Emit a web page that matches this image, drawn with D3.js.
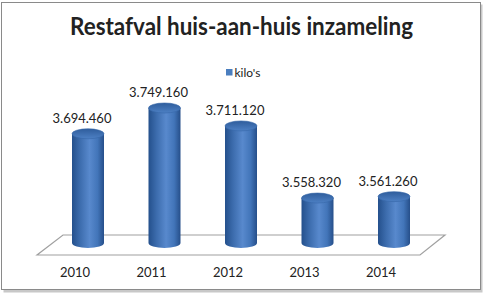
<!DOCTYPE html>
<html>
<head>
<meta charset="utf-8">
<script src="https://cdn.jsdelivr.net/npm/d3@7"></script>
<style>
  body { margin: 0; background: #fff; }
  text { font-family: Lato, "Open Sans", sans-serif; fill: #222; }
</style>
</head>
<body>
<div id="chart"></div>
<script>
(function() {
  // data
  var years = ["2010", "2011", "2012", "2013", "2014"];
  var kilos = [3694460, 3749160, 3711120, 3558320, 3561260];
  var labels = ["3.694.460", "3.749.160", "3.711.120", "3.558.320", "3.561.260"];
  var seriesName = "kilo's";
  var title = "Restafval huis-aan-huis inzameling";

  var width = 488, height = 294;

  var svg = d3.select("#chart")
      .append("svg")
      .attr("width", width)
      .attr("height", height);

  // frame with a soft shadow
  svg.append("rect")
    .attr("x", 3.5).attr("y", 4.5)
    .attr("width", 479).attr("height", 288)
    .attr("fill", "#c8c8c8");
  svg.append("rect")
    .attr("x", 1.5).attr("y", 2.5)
    .attr("width", 479).attr("height", 287)
    .attr("fill", "#fff")
    .attr("stroke", "#8a8a8a");

  // scales
  var xScale = d3.scalePoint()
    .domain(years)
    .range([88, 394]);

  var yScale = d3.scaleLinear()
    .domain([3463000, 3800000])
    .range([243, 84]);

  var rx = 16, ry = 5, depthShift = -13;

  // gradients
  var defs = svg.append("defs");
  var side = defs.append("linearGradient")
    .attr("id", "side").attr("x1", "0").attr("x2", "1").attr("y1", "0").attr("y2", "0");
  side.append("stop").attr("offset", "0").attr("stop-color", "#24508c");
  side.append("stop").attr("offset", "0.25").attr("stop-color", "#3c6cad");
  side.append("stop").attr("offset", "0.55").attr("stop-color", "#5889cd");
  side.append("stop").attr("offset", "0.8").attr("stop-color", "#4275b9");
  side.append("stop").attr("offset", "1").attr("stop-color", "#264f8a");

  var top = defs.append("linearGradient")
    .attr("id", "topcap").attr("x1", "0").attr("x2", "0").attr("y1", "0").attr("y2", "1");
  top.append("stop").attr("offset", "0").attr("stop-color", "#2f5d9c");
  top.append("stop").attr("offset", "1").attr("stop-color", "#4d80c4");

  // floor
  var floorBack = 235, floorFront = 255;
  var floorPts = [[63, floorBack], [445, floorBack], [420, floorFront], [37, floorFront]];
  svg.append("polygon")
    .attr("points", floorPts.map(function(p) { return p.join(","); }).join(" "))
    .attr("fill", "#fff")
    .attr("stroke", "#a0a0a0")
    .attr("stroke-width", 1.2);

  var bars = svg.selectAll("g.bar")
    .data(kilos)
    .enter().append("g")
    .attr("class", "bar");

  // cylinder body
  bars.append("path")
    .attr("fill", "url(#side)")
    .attr("d", function(d, i) {
      var cx = xScale(years[i]);
      var topY = yScale(d), botY = yScale.range()[0];
      return "M" + (cx - rx) + "," + topY +
        "L" + (cx - rx) + "," + botY +
        "A" + rx + "," + ry + " 0 0 0 " + (cx + rx) + "," + botY +
        "L" + (cx + rx) + "," + topY + "Z";
    });

  // top cap
  bars.append("ellipse")
    .attr("cx", function(d, i) { return xScale(years[i]); })
    .attr("cy", function(d) { return yScale(d); })
    .attr("rx", rx)
    .attr("ry", ry)
    .attr("fill", "url(#topcap)")
    .attr("stroke", "#3566a8")
    .attr("stroke-width", 0.6);

  // value labels
  bars.append("text")
    .attr("x", function(d, i) { return xScale(years[i]) - 6; })
    .attr("y", function(d) { return yScale(d) - ry - 6; })
    .attr("text-anchor", "middle")
    .attr("font-size", 13)
    .text(function(d, i) { return labels[i]; });

  // category labels
  svg.selectAll("text.year")
    .data(years)
    .enter().append("text")
    .attr("class", "year")
    .attr("x", function(d) { return xScale(d) + depthShift; })
    .attr("y", 277)
    .attr("text-anchor", "middle")
    .attr("font-size", 13)
    .text(function(d) { return d; });

  // title
  svg.append("text")
    .attr("x", 241.5)
    .attr("y", 35)
    .attr("text-anchor", "middle")
    .attr("font-size", 24)
    .attr("font-weight", "bold")
    .attr("fill", "#000")
    .attr("textLength", 343)
    .attr("lengthAdjust", "spacingAndGlyphs")
    .text(title);

  // legend
  svg.append("rect")
    .attr("x", 226).attr("y", 69)
    .attr("width", 6.5).attr("height", 6.5)
    .attr("fill", "#4a7ebf");
  svg.append("text")
    .attr("x", 234.5)
    .attr("y", 76.5)
    .attr("font-size", 12)
    .text(seriesName);
})()
</script>
</body>
</html>
